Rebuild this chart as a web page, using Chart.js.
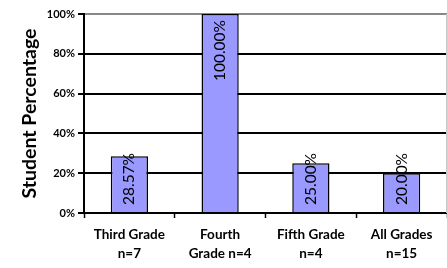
<!DOCTYPE html>
<html>
<head>
<meta charset="utf-8">
<script src="https://cdn.jsdelivr.net/npm/chart.js@4.4.0/dist/chart.umd.min.js"></script>
<style>
  html, body { margin: 0; padding: 0; background: #fff; }
  #wrap { width: 447px; height: 268px; position: relative; }
</style>
</head>
<body>
<div id="wrap"><canvas id="gradeChart"></canvas></div>
<script>
// ── Data ──────────────────────────────────
const categories = [
  ["Third Grade", "n=7"],
  ["Fourth", "Grade n=4"],
  ["Fifth Grade", "n=4"],
  ["All Grades", "n=15"],
];
const percentages = [28.57, 100, 25, 20];
const yTicks = [0, 20, 40, 60, 80, 100];

const FONT = "Lato, 'DejaVu Sans', sans-serif";

// ── Rotated value labels inside bars ──────
const barLabels = {
  id: "barLabels",
  afterDatasetsDraw(chart) {
    const { ctx } = chart;
    const meta = chart.getDatasetMeta(0);
    const base = chart.scales.y.getPixelForValue(0);
    ctx.save();
    ctx.font = "15.5px " + FONT;
    ctx.fillStyle = "#000";
    ctx.textBaseline = "middle";
    meta.data.forEach((bar, i) => {
      const txt = percentages[i].toFixed(2) + "%";
      const len = ctx.measureText(txt).width;
      const top = Math.min(bar.y + 6, base - 8 - len);
      ctx.save();
      ctx.translate(bar.x, top + len);
      ctx.rotate(-Math.PI / 2);
      ctx.textAlign = "left";
      ctx.fillText(txt, 0, 0);
      ctx.restore();
    });
    ctx.restore();
  },
};

// ── Right border of plot area ─────────────
const plotEdge = {
  id: "plotEdge",
  beforeDatasetsDraw(chart) {
    const { ctx, chartArea: a } = chart;
    ctx.save();
    ctx.strokeStyle = "#c8c8c8";
    ctx.lineWidth = 1;
    ctx.beginPath();
    ctx.moveTo(a.right - 0.5, a.top);
    ctx.lineTo(a.right - 0.5, a.bottom);
    ctx.stroke();
    ctx.restore();
  },
};

new Chart(document.getElementById("gradeChart"), {
  type: "bar",
  data: {
    labels: categories,
    datasets: [{
      data: percentages,
      backgroundColor: "#9999ff",
      borderColor: "#000",
      borderWidth: 1.5,
      categoryPercentage: 1,
      barPercentage: 0.41,
    }],
  },
  options: {
    responsive: true,
    maintainAspectRatio: false,
    animation: false,
    layout: { padding: { top: 14, right: 0, bottom: 0, left: 0 } },
    plugins: { legend: { display: false }, tooltip: { enabled: false } },
    scales: {
      x: {
        offset: true,
        grid: {
          offset: true,
          drawOnChartArea: false,
          drawTicks: true,
          tickLength: 5,
          tickColor: "#000",
          tickWidth: 1.5,
        },
        border: { color: "#000", width: 2 },
        ticks: {
          color: "#000",
          padding: 7,
          maxRotation: 0,
          font: { family: FONT, size: 13.5, weight: "bold", lineHeight: 1.4 },
        },
        afterFit: s => { s.height = 55; },
      },
      y: {
        min: 0,
        max: 100,
        afterBuildTicks: s => { s.ticks = yTicks.map(v => ({ value: v })); },
        grid: {
          color: c => (c.tick && c.tick.value === 100 ? "#888" : "#000"),
          lineWidth: 2,
          tickLength: 6,
          tickColor: "#000",
        },
        border: { color: "#000", width: 2 },
        ticks: {
          color: "#000",
          padding: 3,
          font: { family: FONT, size: 11, weight: "bold" },
          callback: v => v + "%",
        },
        title: {
          display: true,
          text: "Student Percentage",
          color: "#000",
          padding: { top: 18, bottom: 0 },
          font: { family: FONT, size: 19.5, weight: "bold" },
        },
        afterFit: s => { s.width = 84; },
      },
    },
  },
  plugins: [plotEdge, barLabels],
});
</script>
</body>
</html>
